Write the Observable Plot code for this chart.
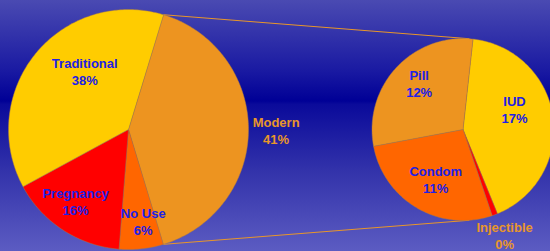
<!DOCTYPE html>
<html><head><meta charset="utf-8">
<script src="https://cdn.jsdelivr.net/npm/d3@7"></script>
<script src="https://cdn.jsdelivr.net/npm/@observablehq/plot@0.6"></script>
<style>html,body{margin:0;padding:0;background:#3c3cac;overflow:hidden}</style>
</head><body><div id="chart"></div>
<script>
// ---- data ----
const mainCategories = ["Modern", "No Use", "Pregnancy", "Traditional"];
const mainValues = [41, 6, 16, 38];
const subCategories = ["IUD", "Injectible", "Condom", "Pill"];
const subValues = [17, 0.4, 11, 12];

// ---- layout / style ----
const sliceColors = {
  "Modern": "#ED9420", "No Use": "#FF6600", "Pregnancy": "#FF0000", "Traditional": "#FFCC00",
  "IUD": "#FFCC00", "Injectible": "#FF0000", "Condom": "#FF6600", "Pill": "#ED9420"
};
const outsideLabels = new Set(["Modern", "Injectible"]);
// label placement: [angle shift from slice middle (deg), radius fraction]
const labelPlace = {
  "Modern": [0, 1.23], "No Use": [-3, 0.77], "Pregnancy": [3.5, 0.74], "Traditional": [14, 0.61],
  "IUD": [-14, 0.61], "Injectible": [-1, 1.25], "Condom": [-1.5, 0.62], "Pill": [3.7, 0.70]
};
const mainGeo = {cx: 128, cy: 129, r: 120, start: 17};
const subGeo = {cx: 462.5, cy: 129, r: 91, start: 6.3};

function makeSlices(cats, vals, geo) {
  const total = d3.sum(vals);
  let a = geo.start;
  return cats.map((c, i) => {
    const span = vals[i] / total * 360;
    const s = {cat: c, value: vals[i], a0: a, a1: a + span, geo};
    a += span;
    return s;
  });
}
const pt = (geo, deg, rr) => {
  const t = deg * Math.PI / 180;
  return {x: geo.cx + rr * Math.sin(t), y: geo.cy - rr * Math.cos(t)};
};
function polygon(s) {
  const g = s.geo;
  const pts = [{x: g.cx, y: g.cy}];
  const n = Math.max(2, Math.ceil(s.a1 - s.a0));
  for (let k = 0; k <= n; k++) pts.push(pt(g, s.a0 + (s.a1 - s.a0) * k / n, g.r));
  pts.push({x: g.cx, y: g.cy});
  return pts;
}

const mainSlices = makeSlices(mainCategories, mainValues, mainGeo);
const subSlices = makeSlices(subCategories, subValues, subGeo);
const allSlices = [...mainSlices, ...subSlices];

const labels = allSlices.map(s => {
  const [shift, frac] = labelPlace[s.cat];
  const p = pt(s.geo, (s.a0 + s.a1) / 2 + shift, s.geo.r * frac);
  return {x: p.x, y: p.y, text: s.cat + "\n" + Math.round(s.value) + "%",
          color: outsideLabels.has(s.cat) ? "#E8962A" : "#2020E6"};
});

// connectors: edges of the "Modern" slice to top/bottom of the sub pie
const modern = mainSlices.find(s => s.cat === "Modern");
const connectors = [
  {p1: pt(mainGeo, modern.a0, mainGeo.r), p2: pt(subGeo, 4, subGeo.r)},
  {p1: pt(mainGeo, modern.a1, mainGeo.r), p2: pt(subGeo, 176, subGeo.r)}
];

const chart = Plot.plot({
  width: 550, height: 251,
  marginTop: 0, marginRight: 0, marginBottom: 0, marginLeft: 0,
  x: {domain: [0, 550], range: [0, 550], axis: null},
  y: {domain: [0, 251], range: [0, 251], axis: null},
  color: {type: "identity"},
  style: {
    background: "linear-gradient(to bottom, #4a4ab2 0px, #1a1aa2 70px, #000096 101px, #0a0a9a 104px, #3232aa 170px, #5c5cc2 251px)",
    fontFamily: "Arial, 'Liberation Sans', sans-serif"
  },
  marks: [
    Plot.link(connectors, {x1: d => d.p1.x, y1: d => d.p1.y, x2: d => d.p2.x, y2: d => d.p2.y,
      stroke: "#E8962A", strokeWidth: 1}),
    ...allSlices.map(s => Plot.line(polygon(s), {x: "x", y: "y", curve: "linear",
      fill: sliceColors[s.cat], stroke: "#a87a48", strokeWidth: 0.6, strokeOpacity: 0.8})),
    Plot.text(labels, {x: "x", y: "y", text: "text", fill: "color",
      fontSize: 13, fontWeight: "bold", lineHeight: 1.3})
  ]
});
document.getElementById("chart").appendChild(chart);
</script>
</body></html>
